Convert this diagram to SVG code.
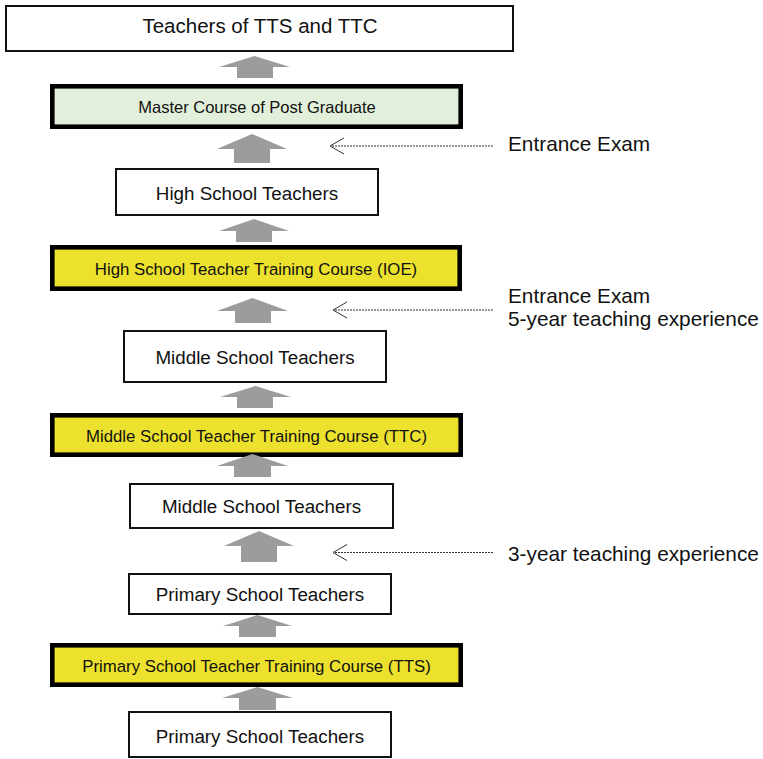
<svg xmlns="http://www.w3.org/2000/svg" width="763" height="759" viewBox="0 0 763 759">
<style>
  .thin { fill: #ffffff; stroke: #111111; stroke-width: 2; }
  .thick { stroke: #000000; stroke-width: 4.6; }
  .yellow { fill: #ECE22E; }
  .green { fill: #E2EFDA; }
  text { font-family: "Liberation Sans", Arial, sans-serif; fill: #111111; }
  .c { text-anchor: middle; }
  .big { font-size: 18.8px; }
  .course { font-size: 16.8px; }
  .note { font-size: 20.8px; }
  .blk { fill: #9C9C9C; }
  .dot { stroke: #333333; stroke-width: 1; stroke-dasharray: 2 1; fill: none; }
  .head { stroke: #333333; stroke-width: 1; fill: none; }
</style>
<rect width="763" height="759" fill="#ffffff"/>

<g id="teachers-tts-ttc">
  <rect class="thin" x="6" y="6" width="507" height="45"/>
  <text class="c" x="260" y="33" style="font-size:20.5px">Teachers of TTS and TTC</text>
</g>
<g id="master-course">
  <rect class="thick green" x="52.3" y="86.3" width="408.4" height="40.4"/>
  <text class="c" x="257" y="113" style="font-size:16.5px">Master Course of Post Graduate</text>
</g>
<g id="high-school-teachers">
  <rect class="thin" x="116" y="169" width="262" height="46"/>
  <text class="c big" x="247" y="199.5">High School Teachers</text>
</g>
<g id="high-school-course">
  <rect class="thick yellow" x="52.3" y="247.3" width="407.4" height="41.4"/>
  <text class="c course" x="256" y="274.5">High School Teacher Training Course (IOE)</text>
</g>
<g id="middle-school-teachers-1">
  <rect class="thin" x="124" y="331" width="262" height="51"/>
  <text class="c big" x="255" y="364">Middle School Teachers</text>
</g>
<g id="middle-school-course">
  <rect class="thick yellow" x="52.3" y="415.3" width="408.4" height="39.4"/>
  <text class="c course" x="256.5" y="441.5">Middle School Teacher Training Course (TTC)</text>
</g>
<g id="middle-school-teachers-2">
  <rect class="thin" x="130" y="484" width="263" height="44"/>
  <text class="c big" x="261.5" y="513">Middle School Teachers</text>
</g>
<g id="primary-school-teachers-1">
  <rect class="thin" x="129" y="574" width="262" height="40"/>
  <text class="c big" x="260" y="601">Primary School Teachers</text>
</g>
<g id="primary-school-course">
  <rect class="thick yellow" x="52.3" y="645.3" width="408.4" height="39.4"/>
  <text class="c course" x="256.5" y="671.5">Primary School Teacher Training Course (TTS)</text>
</g>
<g id="primary-school-teachers-2">
  <rect class="thin" x="129" y="712" width="262" height="45"/>
  <text class="c big" x="260" y="742.5">Primary School Teachers</text>
</g>

<g id="connectors">
  <polygon class="blk" points="254.5,56 290,67 273,67 273,78 237,78 237,67 219,67"/>
  <polygon class="blk" points="252,134 287,149 270,149 270,163 234,163 234,149 217,149"/>
  <polygon class="blk" points="254,219 289,231 272,231 272,242 236,242 236,231 219,231"/>
  <polygon class="blk" points="252.5,298 288,311 271,311 271,323 235,323 235,311 217,311"/>
  <polygon class="blk" points="255.5,386 291,397 273,397 273,408 237,408 237,397 220,397"/>
  <polygon class="blk" points="252.5,454 288,466 271,466 271,477 234,477 234,466 217,466"/>
  <polygon class="blk" points="259,531 294,546 277,546 277,562 241,562 241,546 224,546"/>
  <polygon class="blk" points="257.5,615 292,626 276,626 276,637 239,637 239,626 223,626"/>
  <polygon class="blk" points="257.5,687 293,698 276,698 276,710 239,710 239,698 222,698"/>

  <line class="dot" x1="493" y1="146" x2="331" y2="146"/>
  <polyline class="head" points="344,138 330,146 344,154"/>
  <line class="dot" x1="493" y1="310" x2="334" y2="310"/>
  <polyline class="head" points="347,302 333,310 347,318"/>
  <line class="dot" x1="493" y1="552.5" x2="334" y2="552.5"/>
  <polyline class="head" points="347,544.5 333,552.5 347,560.5"/>
</g>

<g id="labels">
  <text class="note" x="508" y="151">Entrance Exam</text>
  <text class="note" x="508" y="302.5">Entrance Exam</text>
  <text class="note" x="508" y="326">5-year teaching experience</text>
  <text class="note" x="508" y="561">3-year teaching experience</text>
</g>
</svg>
